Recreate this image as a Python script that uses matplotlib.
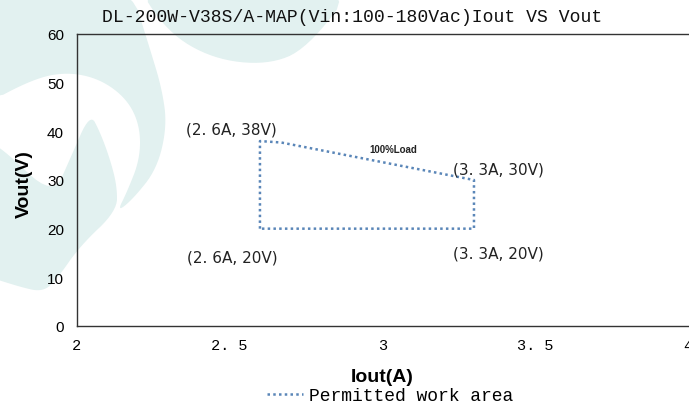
import numpy as np
import matplotlib
matplotlib.use("Agg")
import matplotlib.pyplot as plt
from matplotlib.patches import Polygon
from matplotlib.lines import Line2D

## Data
iout = [2.6, 2.6, 2.67, 3.3, 3.3, 2.6]
vout = [20, 38, 37.7, 30, 20, 20]
corner_labels = ["(2. 6A, 38V)", "(2. 6A, 20V)", "(3. 3A, 30V)", "(3. 3A, 20V)"]
corner_pos = [(2.505, 40.5), (2.508, 14.2), (3.38, 32.3), (3.38, 15.0)]
xticks = [2, 2.5, 3, 3.5, 4]
xtick_labels = ["2", "2. 5", "3", "3. 5", "4"]
yticks = [0, 10, 20, 30, 40, 50, 60]

line_color = "#5a86b8"
mono = "Liberation Mono"
W, H = 689, 410


def chaikin(pts, n=3):
    # round off the corners of a closed outline
    p = np.asarray(pts, float)
    for _ in range(n):
        q = np.roll(p, -1, axis=0)
        p = np.column_stack([0.75 * p + 0.25 * q, 0.25 * p + 0.75 * q]).reshape(-1, 2)
    return p


fig = plt.figure(figsize=(6.89, 4.10), dpi=100)

# faint logo watermark, drawn in image pixels (y down)
bg = fig.add_axes([0, 0, 1, 1], zorder=-5)
bg.set_xlim(0, W)
bg.set_ylim(H, 0)
bg.axis("off")
wm = "#e2f1f0"
crescent = [(-20, -20), (128, -20), (150, 50), (162, 90), (167, 127), (157, 170), (133, 200),
            (117, 213), (127, 193), (140, 160), (140, 127), (127, 100), (100, 80), (67, 73),
            (33, 80), (-20, 108)]
leaf = [(-20, 140), (0, 147), (53, 198), (70, 160), (90, 114), (100, 133), (110, 160),
        (117, 187), (117, 212), (80, 247), (57, 280), (43, 293), (20, 288), (-20, 275)]
blob = [(133, -20), (360, -20), (307, 50), (267, 66), (213, 60), (167, 33)]
for pts in (crescent, leaf, blob):
    bg.add_patch(Polygon(chaikin(pts), closed=True, color=wm, linewidth=0))

ax = fig.add_axes([76.5 / W, 1 - 327 / H, 611.5 / W, 292 / H])
ax.patch.set_alpha(0)

ax.plot(iout, vout, linestyle=(0, (1.0, 1.3)), color=line_color, linewidth=1.8)

for lab, (x, y) in zip(corner_labels, corner_pos):
    ax.text(x, y, lab, ha="center", va="center", fontsize=11,
            family="DejaVu Sans", color="#222222")
ax.text(3.035, 36.4, "100%Load", ha="center", va="center", fontsize=7,
        fontweight="bold", family="Liberation Sans", color="#222222")

ax.set_xlim(2, 4)
ax.set_ylim(0, 60)
ax.set_xticks(xticks)
ax.set_xticklabels(xtick_labels, family=mono, fontsize=11)
ax.set_yticks(yticks)
ax.set_yticklabels([str(v) for v in yticks], family="Liberation Sans", fontsize=11)
ax.tick_params(length=0, pad=9)
for s in ["left", "bottom", "top"]:
    ax.spines[s].set_linewidth(1.0)
    ax.spines[s].set_color("#333333")
ax.spines["right"].set_visible(False)

fig.text(352 / W, 1 - 18 / H, "DL-200W-V38S/A-MAP(Vin:100-180Vac)Iout VS Vout",
         ha="center", va="center", family=mono, fontsize=13.1, color="#111111")
fig.text(382 / W, 1 - 378 / H, "Iout(A)", ha="center", va="center",
         family="Liberation Sans", fontweight="bold", fontsize=14)
fig.text(24 / W, 1 - 184 / H, "Vout(V)", ha="center", va="center", rotation=90,
         family="Liberation Sans", fontweight="bold", fontsize=14)

handle = Line2D([], [], linestyle=(0, (1.0, 1.3)), color=line_color, linewidth=1.8)
fig.legend([handle], ["Permitted work area"], loc="center", bbox_to_anchor=(390 / W, 1 - 397 / H),
           frameon=False, prop={"family": mono, "size": 13}, handlelength=2.0,
           handletextpad=0.3, borderpad=0)

fig.savefig("out.png", dpi=100)
